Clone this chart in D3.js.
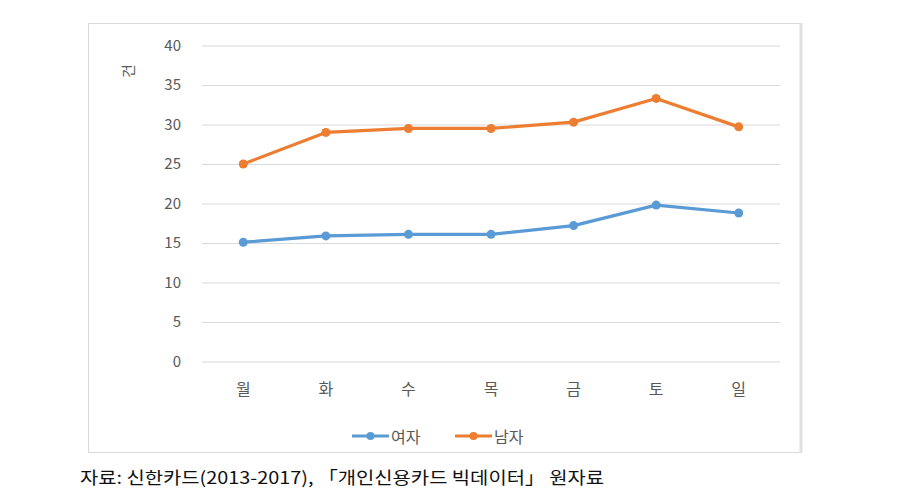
<!DOCTYPE html>
<html><head><meta charset="utf-8">
<script src="https://cdn.jsdelivr.net/npm/d3@7"></script>
<style>body{margin:0;background:#fff}svg{display:block}</style>
</head><body>
<script>
const categories = ["월","화","수","목","금","토","일"];
const female = [15.1, 15.9, 16.1, 16.1, 17.2, 19.8, 18.8];
const male = [25.0, 29.0, 29.5, 29.5, 30.3, 33.3, 29.7];
const seriesNames = ["여자","남자"];
const seriesColors = ["#5b9bd5","#ed7d31"];
const yTicks = [0,5,10,15,20,25,30,35,40];
const yLabel = "건";
const source = "자료: 신한카드(2013-2017), 「개인신용카드 빅데이터」 원자료";

const W = 924, H = 496;
const svg = d3.select("body").append("svg").attr("width", W).attr("height", H);
const font = "'Noto Sans CJK KR', 'Open Sans', sans-serif";

// chart frame
svg.append("rect").attr("x", 88.5).attr("y", 23.5).attr("width", 712).attr("height", 429)
  .attr("fill", "#fff").attr("stroke", "#d9d9d9").attr("stroke-width", 1);
svg.append("line").attr("x1", 801).attr("x2", 801).attr("y1", 23).attr("y2", 453)
  .attr("stroke", "#e0e0e0").attr("stroke-width", 3);

const x = d3.scaleBand().domain(categories).range([202, 780]);
const y = d3.scaleLinear().domain([0, 40]).range([361.5, 45.5]);

// gridlines
const yAxis = d3.axisLeft(y).tickValues(yTicks).tickSize(-(780 - 202)).tickPadding(21);
const gy = svg.append("g").attr("transform", "translate(202,0)").call(yAxis);
gy.select(".domain").remove();
gy.selectAll(".tick line").attr("stroke", "#d9d9d9").attr("stroke-width", 1);
gy.selectAll(".tick text").attr("fill", "#595959").attr("font-size", 15)
  .attr("font-family", font);

const xAxis = d3.axisBottom(x).tickSize(0).tickPadding(22);
const gx = svg.append("g").attr("transform", "translate(0,361.5)").call(xAxis);
gx.select(".domain").remove();
gx.selectAll(".tick text").attr("fill", "#595959").attr("font-size", 16)
  .attr("font-family", font);

// y axis title
svg.append("text").attr("transform", "translate(127,71) rotate(-90)")
  .attr("text-anchor", "middle").attr("dominant-baseline", "central")
  .attr("font-size", 15).attr("fill", "#595959").attr("font-family", font).text(yLabel);

const cx = d => x(d) + x.bandwidth() / 2;
const line = d3.line().x((d, i) => cx(categories[i])).y(d => y(d));
[female, male].forEach((s, k) => {
  const g = svg.append("g");
  g.append("path").datum(s).attr("d", line).attr("fill", "none")
    .attr("stroke", seriesColors[k]).attr("stroke-width", 3.2).attr("stroke-linejoin", "round");
  g.selectAll("circle").data(s).join("circle")
    .attr("cx", (d, i) => cx(categories[i])).attr("cy", d => y(d)).attr("r", 4.5)
    .attr("fill", seriesColors[k]);
});

// legend
const legendX = [352, 455];
seriesNames.forEach((n, k) => {
  const lg = svg.append("g").attr("transform", `translate(${legendX[k]},436)`);
  lg.append("line").attr("x1", 0).attr("x2", 37).attr("stroke", seriesColors[k]).attr("stroke-width", 3.2);
  lg.append("circle").attr("cx", 18.5).attr("cy", 0).attr("r", 4).attr("fill", seriesColors[k]);
  lg.append("text").attr("x", 39).attr("y", 0).attr("dominant-baseline", "central")
    .attr("font-size", 16).attr("fill", "#595959").attr("font-family", font).text(n);
});

// source
svg.append("text").attr("x", 80).attr("y", 484).attr("font-size", 17)
  .attr("fill", "#111").attr("font-family", font).attr("textLength", 524)
  .attr("lengthAdjust", "spacingAndGlyphs").text(source);
</script>
</body></html>
